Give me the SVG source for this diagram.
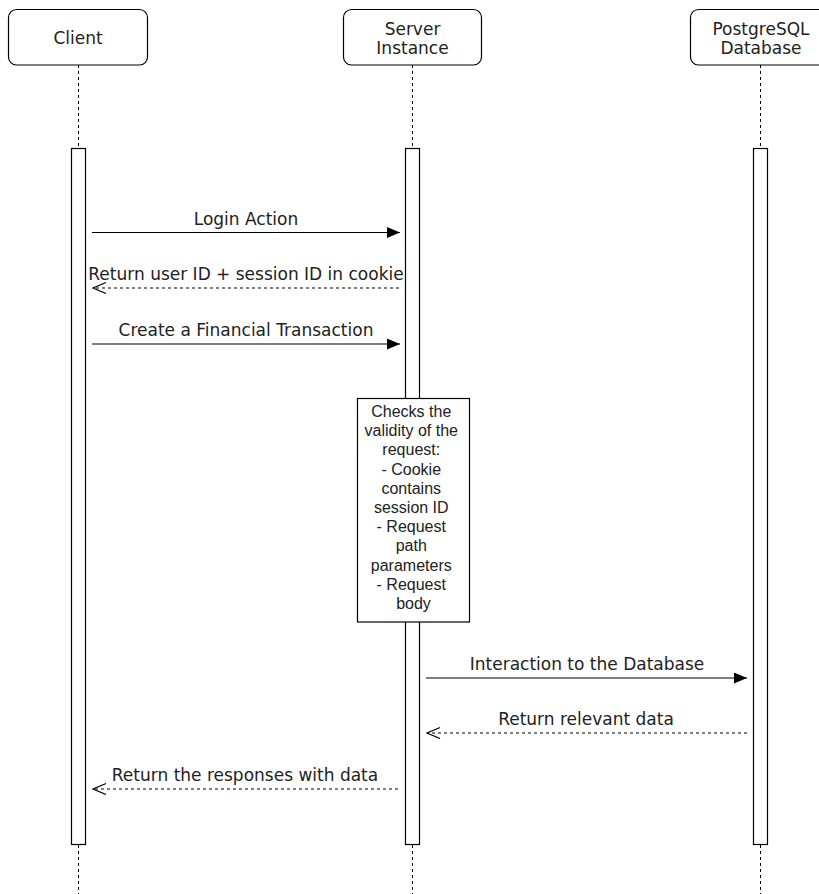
<svg xmlns="http://www.w3.org/2000/svg" width="819" height="894" viewBox="0 0 819 894">
<defs>
<style>
.actor{fill:#fff;stroke:#000;stroke-width:1.2}
.life{stroke:#000;stroke-width:1;stroke-dasharray:3 3;fill:none}
.act{fill:#fff;stroke:#000;stroke-width:1.2}
.hdr{font-family:"DejaVu Sans",Verdana,sans-serif;font-size:17px;fill:#222;text-anchor:middle}
.lbl{font-family:"DejaVu Sans",Verdana,sans-serif;font-size:17px;fill:#222;text-anchor:middle}
.note{fill:#fff;stroke:#000;stroke-width:1.2}
.ntxt{font-family:"Liberation Sans",Arial,sans-serif;font-size:16px;fill:#222;text-anchor:middle}
.msg{stroke:#000;stroke-width:1.2;fill:none}
.ret{stroke:#000;stroke-width:1;stroke-dasharray:3 3;fill:none}
</style>
<marker id="filled" markerUnits="userSpaceOnUse" markerWidth="14" markerHeight="12" refX="13" refY="5.5" orient="auto">
<path d="M0,0 L13,5.5 L0,11 Z" fill="#000"/>
</marker>
<marker id="open" markerUnits="userSpaceOnUse" markerWidth="15" markerHeight="13" refX="13.5" refY="6" orient="auto">
<path d="M0.5,0.5 L13.5,6 L0.5,11.5" fill="none" stroke="#000" stroke-width="1.2"/>
</marker>
</defs>
<rect width="819" height="894" fill="#fff"/>

<g id="client">
<rect class="actor" x="8.5" y="9.5" width="139" height="55.5" rx="8"/>
<text class="hdr" x="78" y="44">Client</text>
<line class="life" x1="78.5" y1="65" x2="78.5" y2="149"/>
<rect class="act" x="71.5" y="148.5" width="14" height="696"/>
<line class="life" x1="78.5" y1="845" x2="78.5" y2="894"/>
</g>

<g id="server">
<rect class="actor" x="343.5" y="9.5" width="138" height="55.5" rx="8"/>
<text class="hdr" x="412.5" y="35">Server</text>
<text class="hdr" x="412.5" y="54">Instance</text>
<line class="life" x1="412.5" y1="65" x2="412.5" y2="149"/>
<rect class="act" x="405.5" y="148.5" width="14" height="696"/>
<line class="life" x1="412.5" y1="845" x2="412.5" y2="894"/>
</g>

<g id="database">
<rect class="actor" x="690.5" y="9.5" width="140" height="55.5" rx="8"/>
<text class="hdr" x="761" y="35">PostgreSQL</text>
<text class="hdr" x="761" y="54">Database</text>
<line class="life" x1="760.5" y1="65" x2="760.5" y2="149"/>
<rect class="act" x="753.5" y="148.5" width="14" height="696"/>
<line class="life" x1="760.5" y1="845" x2="760.5" y2="894"/>
</g>

<g id="validation-note">
<rect class="note" x="357.5" y="398.5" width="112" height="223.5"/>
<text class="ntxt" x="413.5">
<tspan x="413.5" y="417">Checks the</tspan>
<tspan x="413.5" y="436.2">validity of the</tspan>
<tspan x="413.5" y="455.4">request:</tspan>
<tspan x="413.5" y="474.6">- Cookie</tspan>
<tspan x="413.5" y="493.8">contains</tspan>
<tspan x="413.5" y="513">session ID</tspan>
<tspan x="413.5" y="532.2">- Request</tspan>
<tspan x="413.5" y="551.4">path</tspan>
<tspan x="413.5" y="570.6">parameters</tspan>
<tspan x="413.5" y="589.8">- Request</tspan>
<tspan x="413.5" y="609">body</tspan>
</text>
</g>

<g id="connectors">
<line class="msg" x1="92" y1="232.5" x2="400" y2="232.5" marker-end="url(#filled)"/>
<text class="lbl" x="246" y="225">Login Action</text>

<line class="ret" x1="399" y1="288" x2="93" y2="288" marker-end="url(#open)"/>
<text class="lbl" x="246" y="280">Return user ID + session ID in cookie</text>

<line class="msg" x1="92" y1="344" x2="400" y2="344" marker-end="url(#filled)"/>
<text class="lbl" x="246" y="336">Create a Financial Transaction</text>

<line class="msg" x1="426" y1="678" x2="747" y2="678" marker-end="url(#filled)"/>
<text class="lbl" x="587" y="670">Interaction to the Database</text>

<line class="ret" x1="747" y1="733" x2="427" y2="733" marker-end="url(#open)"/>
<text class="lbl" x="586" y="725">Return relevant data</text>

<line class="ret" x1="398" y1="789" x2="93" y2="789" marker-end="url(#open)"/>
<text class="lbl" x="245" y="781">Return the responses with data</text>
</g>
</svg>
